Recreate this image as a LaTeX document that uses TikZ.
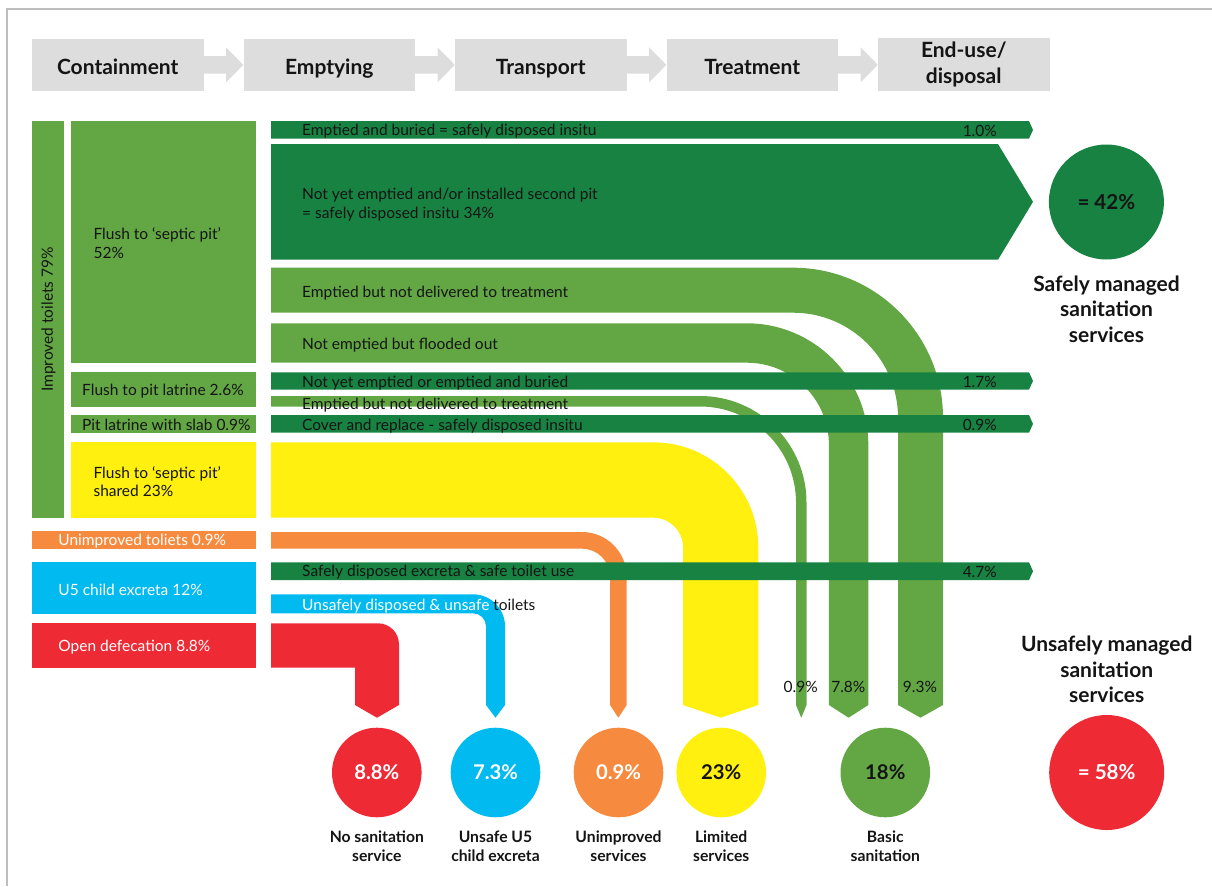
\documentclass[tikz,border=0pt]{standalone}
\usepackage{fontspec}
\setmainfont{Lato}
\usetikzlibrary{calc}
\definecolor{dg}{RGB}{23,130,66}
\definecolor{lg}{RGB}{98,167,68}
\definecolor{yl}{RGB}{255,240,16}
\definecolor{og}{RGB}{246,138,62}
\definecolor{bl}{RGB}{0,186,240}
\definecolor{rd}{RGB}{238,42,53}
\definecolor{hg}{RGB}{221,221,221}
\definecolor{tx}{RGB}{20,20,20}
\definecolor{fr}{RGB}{190,190,190}
\tikzset{
 hdrbox/.style={fill=hg, minimum width=171.5pt, minimum height=51.7pt, inner sep=0pt, font=\fontsize{21}{27}\selectfont\bfseries, text=tx, align=center},
 oneline/.style={text height=18.3pt, text depth=0pt},
 flowlbl/.style={anchor=west, inner sep=0pt, yshift=-1.6pt, font=\fontsize{15.5}{19}\selectfont, text=tx, align=left},
 pctlbl/.style={inner sep=0pt, font=\fontsize{15.5}{19}\selectfont, text=tx},
 leftlbl/.style={anchor=west, inner sep=0pt, yshift=-1pt, font=\fontsize{15.5}{19}\selectfont, text=tx, align=left},
 endcirc/.style={circle, inner sep=0pt, minimum size=89.6pt, font=\fontsize{20.3}{24}\selectfont\bfseries},
 bigcirc/.style={circle, inner sep=0pt, minimum size=115pt, font=\fontsize{20.6}{24}\selectfont\bfseries},
 endlbl/.style={inner sep=0pt, align=center, font=\fontsize{15.7}{19}\selectfont\bfseries, text=tx},
 bigtitle/.style={inner sep=0pt, align=center, font=\fontsize{21}{25.5}\selectfont\bfseries, text=tx},
 hdrarrow/.style={fill=hg},
}
\begin{document}
\begin{tikzpicture}[x=1pt,y=-1pt]
\useasboundingbox (0,0) rectangle (1212,886);
% frame
\draw[fr, line width=1.2pt] (7,886) -- (7,9) -- (1212,9);

% header
\node[hdrbox, oneline] (h1) at (117.75,64.85) {Containment};
\node[hdrbox, oneline] (h2) at (329.25,64.85) {Emptying};
\node[hdrbox, oneline] (h3) at (540.75,64.85) {Transport};
\node[hdrbox, oneline] (h4) at (752.25,64.85) {Treatment};
\node[hdrbox] (h5) at (963.75,64.85) {\raisebox{-5pt}{\begin{tabular}{@{}c@{}}End-use/\\[-1pt]disposal\end{tabular}}};
\foreach \a/\b in {h1/h2,h2/h3,h3/h4,h4/h5}{
 \fill[hdrarrow] ($(\a.east)+(0,-8.8)$) -- ($(\b.west)+(-17.2,-8.8)$) -- ($(\b.west)+(-17.2,-17.5)$) -- (\b.west) -- ($(\b.west)+(-17.2,17.5)$) -- ($(\b.west)+(-17.2,8.8)$) -- ($(\a.east)+(0,8.8)$) -- cycle;
}

% left column
\fill[lg] (32,121) rectangle (63.5,517.7);
\fill[lg] (71.2,121) rectangle (255.6,362.7);
\fill[lg] (71.2,372) rectangle (255.6,406.7);
\fill[lg] (71.2,415) rectangle (255.6,432.7);
\fill[yl] (71.2,442) rectangle (255.6,517.7);
\fill[og] (32,531) rectangle (255.6,548.7);
\fill[bl] (32,562) rectangle (255.6,613.7);
\fill[rd] (32,623.3) rectangle (255.6,667.7);

% flows (light colours first)
\fill[lg] (271,267.7) -- (793,267.7) .. controls (875.8,267.7) and (943,334.9) .. (943,417.7) -- (943,705) -- (920.5,717.7) -- (898,705) -- (898,417.7) .. controls (898,359.7) and (851,312.7) .. (793,312.7) -- (271,312.7) -- cycle;
\fill[lg] (271,323.3) -- (746.7,323.3) .. controls (813.9,323.3) and (868.3,377.7) .. (868.3,444.9) -- (868.3,705) -- (848.6,717.7) -- (828.9,705) -- (828.9,444.9) .. controls (828.9,399.5) and (792.1,362.7) .. (746.7,362.7) -- (271,362.7) -- cycle;
\fill[lg] (271,396) -- (700,396) .. controls (758.8,396) and (806.5,443.7) .. (806.5,502.5) -- (806.5,705) -- (801.25,717.7) -- (796,705) -- (796,502.5) .. controls (796,449.5) and (753,406.5) .. (700,406.5) -- (271,406.5) -- cycle;
\fill[yl] (271,442.3) -- (653.3,442.3) .. controls (711.3,442.3) and (758.3,489.3) .. (758.3,547.3) -- (758.3,705) -- (720.7,717.7) -- (683,705) -- (683,547.3) .. controls (683,530.9) and (669.7,517.7) .. (653.3,517.7) -- (271,517.7) -- cycle;
\fill[og] (271,532) -- (582,532) .. controls (606.7,532) and (626.7,552) .. (626.7,576.7) -- (626.7,705) -- (618.3,717.7) -- (610,705) -- (610,576.7) .. controls (610,561.2) and (597.5,548.7) .. (582,548.7) -- (271,548.7) -- cycle;
\fill[bl] (271,594.3) -- (473,594.3) .. controls (490.7,594.3) and (505,608.6) .. (505,626.3) -- (505,705) -- (495.5,717.7) -- (486,705) -- (486,626.3) .. controls (486,619.1) and (480.2,613.3) .. (473,613.3) -- (271,613.3) -- cycle;
\fill[rd] (271,623.3) -- (378,623.3) .. controls (389.6,623.3) and (399,632.7) .. (399,644.3) -- (399,705) -- (377,717.7) -- (355,705) -- (355,667.7) -- (271,667.7) -- cycle;

% dark green bars on top
\fill[dg] (271,121) -- (1029,121) -- (1033,129.9) -- (1029,138.7) -- (271,138.7) -- cycle;
\fill[dg] (271,144) -- (998,144) -- (1033,201.8) -- (998,259.7) -- (271,259.7) -- cycle;
\fill[dg] (271,372.3) -- (1029,372.3) -- (1033,380.9) -- (1029,389.5) -- (271,389.5) -- cycle;
\fill[dg] (271,415) -- (1029,415) -- (1033,423.9) -- (1029,432.7) -- (271,432.7) -- cycle;
\fill[dg] (271,562.3) -- (1029,562.3) -- (1033,571.2) -- (1029,580) -- (271,580) -- cycle;

% left texts
\node[leftlbl] (t52) at (93.4,242.5) {Flush to ‘septic pit’\\52\%};
\node[leftlbl] (tpl) at (82,390.5) {Flush to pit latrine 2.6\%};
\node[leftlbl] (tsl) at (82,424) {Pit latrine with slab 0.9\%};
\node[leftlbl, font=\fontsize{15.5}{17.7}\selectfont] (t23) at (93.4,480.5) {Flush to ‘septic pit’\\shared 23\%};
\node[leftlbl, text=white] (tun) at (58.2,540) {Unimproved toliets 0.9\%};
\node[leftlbl, text=white] (tu5) at (58.2,588.5) {U5 child excreta 12\%};
\node[leftlbl, text=white] (tod) at (58.2,646) {Open defecation 8.8\%};
\node[pctlbl, rotate=90] (timp) at (48.5,319.5) {Improved toilets 79\%};

% flow texts
\node[flowlbl] (f1) at (302,129.9) {Emptied and buried = safely disposed insitu};
\node[flowlbl] (f2) at (302,202.8) {Not yet emptied and/or installed second pit\\= safely disposed insitu 34\%};
\node[flowlbl] (f3) at (302,291.7) {Emptied but not delivered to treatment};
\node[flowlbl] (f4) at (302,343.3) {Not emptied but flooded out};
\node[flowlbl] (f5) at (302,381.2) {Not yet emptied or emptied and buried};
\node[flowlbl] (f6) at (302,403.3) {Emptied but not delivered to treatment};
\node[flowlbl] (f7) at (302,424.5) {Cover and replace - safely disposed insitu};
\node[flowlbl] (f10) at (302,571) {Safely disposed excreta \& safe toilet use};
\node[flowlbl] (f11) at (302,605) {{\color{white}Unsafely disposed \& unsafe} toilets};

% percentages
\node[pctlbl, anchor=east, yshift=-1.2pt] (p1) at (997,129.9) {1.0\%};
\node[pctlbl, anchor=east, yshift=-1.2pt] (p5) at (997,380.9) {1.7\%};
\node[pctlbl, anchor=east, yshift=-1.2pt] (p7) at (997,424) {0.9\%};
\node[pctlbl, anchor=east, yshift=-1.2pt] (p10) at (997,571.2) {4.7\%};
\node[pctlbl] (p6) at (800.7,686.7) {0.9\%};
\node[pctlbl] (p4) at (848.3,686.7) {7.8\%};
\node[pctlbl] (p3) at (920,686.7) {9.3\%};

% outcome circles
\node[endcirc, fill=rd, text=white] (cns) at (376.8,772.5) {8.8\%};
\node[endcirc, fill=bl, text=white] (cu5) at (495.5,772.5) {7.3\%};
\node[endcirc, fill=og, text=white] (cui) at (618.5,772.5) {0.9\%};
\node[endcirc, fill=yl, text=tx] (cli) at (721.2,772.5) {23\%};
\node[endcirc, fill=lg, text=tx] (cba) at (885.3,772.5) {18\%};
\node[bigcirc, fill=dg, text=tx] (csafe) at (1106.4,202) {= 42\%};
\node[bigcirc, fill=rd, text=white] (cunsafe) at (1106.7,772.5) {= 58\%};

\node[endlbl] (lns) at (376.8,846.6) {No sanitation\\service};
\node[endlbl] (lu5) at (495.5,846.6) {Unsafe U5\\child excreta};
\node[endlbl] (lui) at (618.5,846.6) {Unimproved\\services};
\node[endlbl] (lli) at (721.2,846.6) {Limited\\services};
\node[endlbl] (lba) at (885.3,846.6) {Basic\\sanitation};

\node[bigtitle] (tsafe) at (1106.5,309) {Safely managed\\sanitation\\services};
\node[bigtitle] (tunsafe) at (1106.7,669.5) {Unsafely managed\\sanitation\\services};
\end{tikzpicture}
\end{document}
